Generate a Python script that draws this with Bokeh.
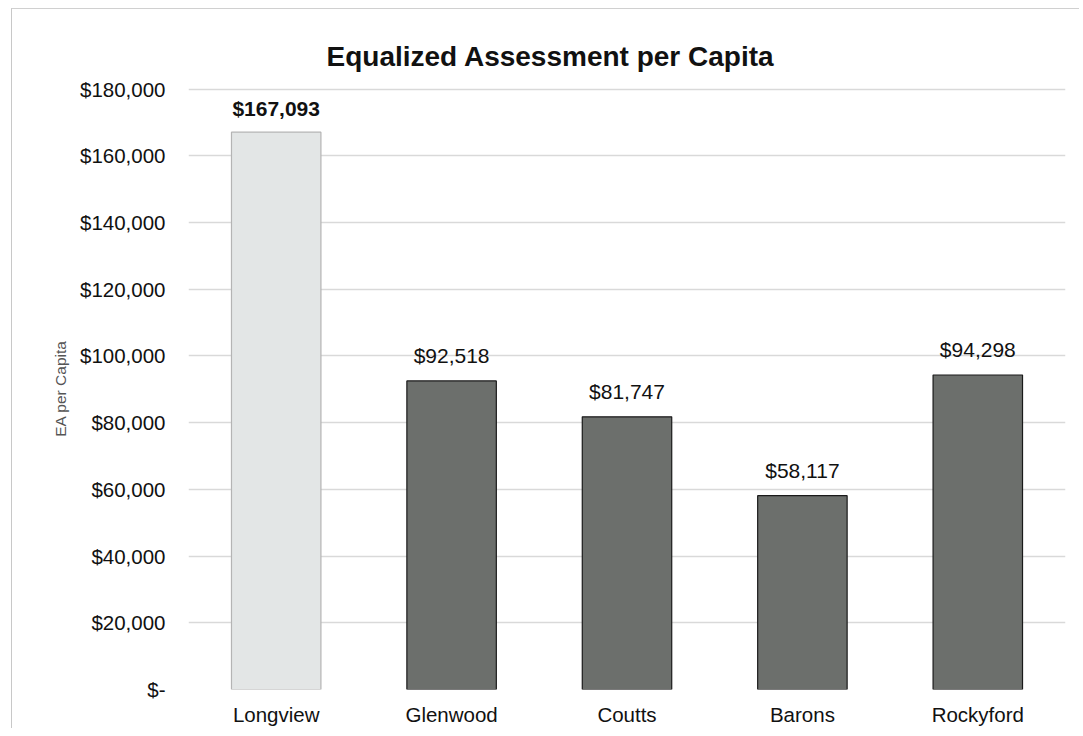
from bokeh.plotting import figure
from bokeh.models import ColumnDataSource, NumeralTickFormatter, LabelSet, Range1d
from bokeh.core.properties import value
from bokeh.embed import file_html
from bokeh.resources import INLINE

towns = ["Longview", "Glenwood", "Coutts", "Barons", "Rockyford"]
ea_per_capita = [167093, 92518, 81747, 58117, 94298]
fill_colors = ["#e3e6e6", "#6c6f6c", "#6c6f6c", "#6c6f6c", "#6c6f6c"]
line_colors = ["#b4b4b4", "#1a1a1a", "#1a1a1a", "#1a1a1a", "#1a1a1a"]
label_weights = ["bold", "normal", "normal", "normal", "normal"]
label_offsets = [12, 14, 14, 14, 14]
y_ticks = [0, 20000, 40000, 60000, 80000, 100000, 120000, 140000, 160000, 180000]
chart_title = "Equalized Assessment per Capita"

FONT = "Liberation Sans"

src = ColumnDataSource(dict(
    town=towns,
    val=ea_per_capita,
    fill=fill_colors,
    line=line_colors,
    weight=label_weights,
    yoff=label_offsets,
    lab=["${:,}".format(v) for v in ea_per_capita],
))

p = figure(x_range=towns, y_range=Range1d(0, 180500), width=1068, height=720,
           output_backend="svg", toolbar_location=None,
           min_border_left=176, min_border_right=15, min_border_top=78, min_border_bottom=40,
           title=chart_title)
p.styles = {"border-left": "1.5px solid #c8c8c8", "border-top": "1.5px solid #d0d0d0",
            "margin-left": "11px", "margin-top": "8px"}

p.title.align = "left"
p.title.offset = 138
p.title.text_font = FONT
p.title.text_font_size = "28px"
p.title.text_font_style = "bold"
p.title.text_color = "#111111"
p.title.text_line_height = 0.8
p.title.standoff = 32

p.vbar(x="town", top="val", width=0.51, source=src, fill_color="fill",
       line_color="line", line_width=1.2)

labels = LabelSet(x="town", y="val", text="lab", source=src, text_align="center",
                  text_baseline="bottom", y_offset="yoff", text_font=value(FONT),
                  text_font_size="21px", text_font_style="weight", text_color="#111111")
p.add_layout(labels)

p.yaxis.ticker = y_ticks
p.yaxis.formatter = NumeralTickFormatter(format="$0,0")
p.yaxis.major_label_overrides = {0: "$-"}
p.yaxis.axis_label = "EA per Capita"
p.yaxis.axis_label_text_font = FONT
p.yaxis.axis_label_text_font_size = "15.5px"
p.yaxis.axis_label_text_font_style = "normal"
p.yaxis.axis_label_text_color = "#555555"
p.yaxis.axis_label_standoff = 8
p.yaxis.major_label_standoff = 17

for ax in (p.xaxis, p.yaxis):
    ax.axis_line_color = None
    ax.major_tick_line_color = None
    ax.minor_tick_line_color = None
    ax.major_label_text_font = FONT
    ax.major_label_text_font_size = "20.5px"
    ax.major_label_text_color = "#111111"
p.xaxis.major_label_standoff = 7

p.xgrid.grid_line_color = None
p.ygrid.grid_line_color = "#d9d9d9"
p.ygrid.grid_line_width = 1.5
p.outline_line_color = None
p.x_range.range_padding = 0.0

open("out.html", "w").write(file_html(p, INLINE))
